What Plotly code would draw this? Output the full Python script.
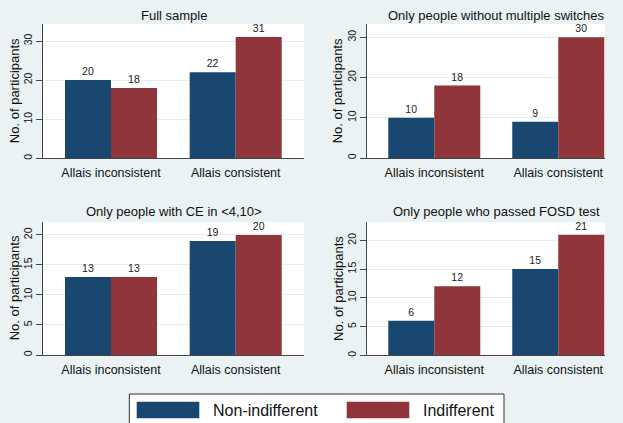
import plotly.graph_objects as go

W, H = 623, 423

categories = ["Allais inconsistent", "Allais consistent"]
series_names = ["Non-indifferent", "Indifferent"]
panel_titles = [
    "Full sample",
    "Only people without multiple switches",
    "Only people with CE in <4,10>",
    "Only people who passed FOSD test",
]
non_indifferent = [[20, 22], [10, 9], [13, 19], [6, 15]]
indifferent = [[18, 31], [18, 30], [13, 20], [12, 21]]
y_tickvals = [[0, 10, 20, 30], [0, 10, 20, 30], [0, 5, 10, 15, 20], [0, 5, 10, 15, 20]]
y_tops = [34.35, 33.3, 22.2, 23.2]

NAVY = "#1A476F"
MAROON = "#90353B"
BG = "#EAF2F3"
FONT = "Liberation Sans, Arial, sans-serif"

# pixel layout of each panel: (left, right, top, bottom)
boxes = [(43, 304, 24, 158.3), (366.7, 605, 24, 158), (43, 304, 221.7, 355), (366.7, 605, 222, 355.3)]
xranges = [(-0.5453, 1.5477), (-0.545, 1.377), (-0.5453, 1.5477), (-0.545, 1.377)]
bar_w = [0.369, 0.371, 0.369, 0.371]
title_pos = [(174, 15), (496.5, 15), (174, 211.7), (496.7, 211.7)]
ytitle_x = [14, 338.3, 14, 338.3]

def px(x):
    return x / W

def py(y):
    return 1 - y / H

fig = go.Figure()
layout = dict(
    width=W, height=H, margin=dict(l=0, r=0, t=0, b=0),
    paper_bgcolor=BG, plot_bgcolor="white", barmode="overlay",
    showlegend=False, font=dict(family=FONT, color="#111"),
    annotations=[], shapes=[],
)

for i in range(4):
    sfx = "" if i == 0 else str(i + 1)
    xa, ya = "x" + sfx, "y" + sfx
    l, r, t, b = boxes[i]
    w = bar_w[i]
    for vals, name, col, off in [(non_indifferent[i], series_names[0], NAVY, -w),
                                 (indifferent[i], series_names[1], MAROON, 0)]:
        fig.add_trace(go.Bar(
            x=[0, 1], y=vals, name=name, xaxis=xa, yaxis=ya,
            width=w, offset=off, marker=dict(color=col, line=dict(width=0)),
            text=[str(v) for v in vals], textposition="outside",
            textfont=dict(size=10.5, color="#222", family=FONT),
            cliponaxis=False, hoverinfo="skip",
        ))
    layout["xaxis" + sfx] = dict(
        domain=[px(l), px(r)], range=list(xranges[i]), anchor=ya,
        tickvals=[0, 1], ticktext=categories, ticks="outside", ticklen=3,
        tickcolor="rgba(0,0,0,0)", tickfont=dict(size=12.5, color="#111"),
        showline=True, linecolor="#444", linewidth=1, showgrid=False,
        zeroline=False, fixedrange=True,
    )
    layout["yaxis" + sfx] = dict(
        domain=[py(b), py(t)], range=[0, y_tops[i]], anchor=xa,
        tickvals=y_tickvals[i], tickangle=-90, ticks="outside", ticklen=6,
        tickcolor="#444", tickfont=dict(size=10.5, color="#111"),
        showline=True, linecolor="#444", linewidth=1,
        showgrid=True, gridcolor="#E6EEF0", gridwidth=1,
        zeroline=False, fixedrange=True,
    )
    tx, ty = title_pos[i]
    layout["annotations"].append(dict(
        text=panel_titles[i], x=px(tx), y=py(ty), xref="paper", yref="paper",
        xanchor="center", yanchor="middle", showarrow=False,
        font=dict(size=13, color="#111", family=FONT)))
    layout["annotations"].append(dict(
        text="No. of participants", x=px(ytitle_x[i]), y=py((t + b) / 2),
        xref="paper", yref="paper", xanchor="center", yanchor="middle",
        textangle=-90, showarrow=False,
        font=dict(size=13, color="#111", family=FONT)))

# legend box drawn manually (Stata style)
layout["shapes"].append(dict(type="rect", xref="paper", yref="paper",
                             x0=px(129.3), x1=px(504), y0=py(440), y1=py(394),
                             fillcolor="white", line=dict(color="#333", width=1)))
for (x0, x1), col, name, tx in [((136.7, 199.3), NAVY, series_names[0], 210.7),
                                 ((346.7, 409.3), MAROON, series_names[1], 420.7)]:
    layout["shapes"].append(dict(type="rect", xref="paper", yref="paper",
                                 x0=px(x0), x1=px(x1), y0=py(418.3), y1=py(401.7),
                                 fillcolor=col, line=dict(width=0)))
    layout["annotations"].append(dict(
        text=name, x=px(tx), y=py(410.5), xref="paper", yref="paper",
        xanchor="left", yanchor="middle", showarrow=False,
        font=dict(size=16, color="#111", family=FONT)))

fig.update_layout(**layout)
fig.write_html("out.html", config={"displayModeBar": False})

# remove the default page margin so the figure fills the window exactly
with open("out.html", "r", encoding="utf-8") as f:
    html = f.read()
html = html.replace("<head>", "<head><style>html,body{margin:0;padding:0;overflow:hidden;background:%s}</style>" % BG, 1)
with open("out.html", "w", encoding="utf-8") as f:
    f.write(html)
